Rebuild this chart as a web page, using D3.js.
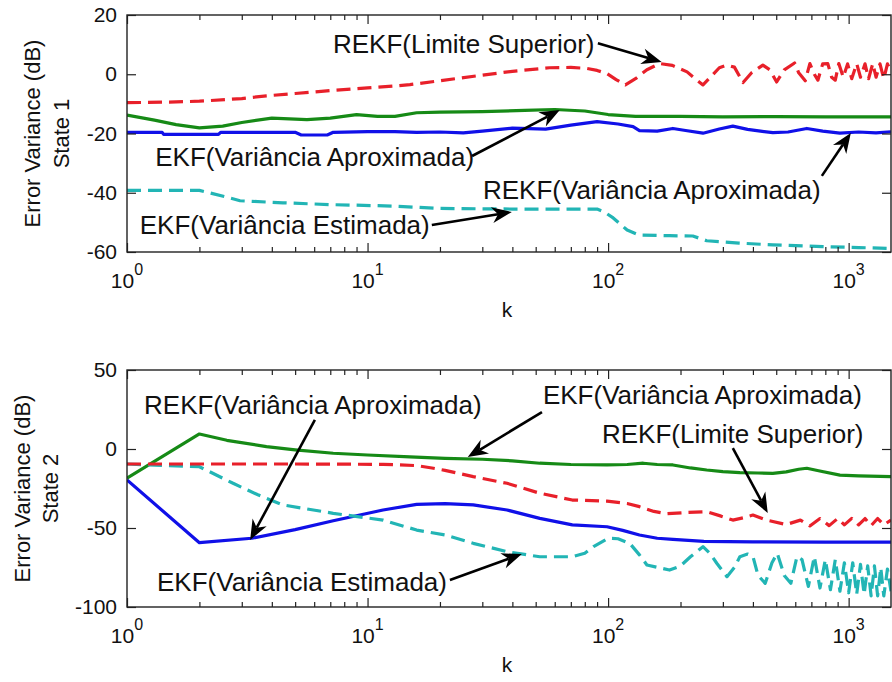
<!DOCTYPE html>
<html>
<head>
<meta charset="utf-8">
<script src="https://cdn.jsdelivr.net/npm/d3@7"></script>
<style>
body { margin: 0; background: #fff; }
svg { display: block; font-family: "Liberation Sans", Arial, sans-serif; }
</style>
</head>
<body>
<div id="chart"></div>
<script>
// values, as [k, dB]
const xDomain = [1, 1500];
const xMajorTicks = [1, 10, 100, 1000];
const xTickExponents = ["0", "1", "2", "3"];

const state1Ticks = [-60, -40, -20, 0, 20];
const state2Ticks = [-100, -50, 0, 50];

const state1RekfApprox = [[1,-19.6],[1.4,-19.6],[1.42,-20.3],[2.4,-20.3],[2.45,-19.6],[5,-19.6],[5.3,-20.5],[6.8,-20.5],[7.2,-19.6],[10,-19.4],[13,-19.4],[16,-19.6],[20,-19.5],[25,-19.8],[30,-19.2],[40,-18.2],[55,-18.5],[70,-17.2],[90,-16.0],[110,-16.8],[127,-17.7],[135,-19],[160,-19.2],[186,-18.3],[210,-19],[248,-19.9],[290,-18.5],[330,-17.5],[380,-18.6],[430,-19.2],[484,-19.7],[560,-19.5],[670,-18.3],[780,-19.2],[920,-19.9],[1100,-19.5],[1300,-19.8],[1500,-19.4]];
const state1EkfApprox = [[1,-13.8],[1.3,-15.5],[1.6,-17],[2,-18.1],[2.5,-17.5],[3,-16.3],[4,-14.8],[5.6,-15.3],[7,-14.8],[9,-13.6],[11,-14.2],[13,-14.2],[16,-13.0],[20,-12.8],[30,-12.6],[45,-12.2],[60,-11.9],[80,-12.4],[100,-13.6],[130,-14.2],[200,-14.2],[300,-14.4],[500,-14.3],[800,-14.4],[1500,-14.4]];
const state1EkfEst = [[1,-39.2],[2,-39.2],[2.2,-40],[2.6,-41.5],[2.95,-42.7],[4.45,-43.4],[7,-44],[12.8,-44.5],[20,-45.3],[40,-45.5],[90,-45.5],[96,-46.4],[105,-48.5],[120,-52.6],[135,-54.3],[180,-54.5],[225,-54.6],[257,-56.2],[350,-57],[484,-57.6],[780,-58.2],[1100,-58.5],[1500,-58.8]];
const state1RekfUpper = [[1,-9.6],[1.5,-9.4],[2,-9.1],[3,-8.2],[3.8,-7.3],[5,-6.5],[7,-5.5],[10,-4.6],[12.8,-4.0],[15,-3.5],[20,-2.2],[30,-0.3],[40,1.0],[57,2.2],[70,2.3],[81,2.0],[90,1.3],[99,0.2],[108,-1.8],[118,-3.6],[130,-1.5],[145,1.5],[164,3.6],[185,3.0],[213,0.8],[230,-1.5],[248,-3.6],[270,-0.5],[290,2.2],[312,3.1],[335,2.4],[364,-2.8],[395,0.5],[440,3.1],[470,1.5],[502,-2.6],[540,1.5],[596,3.8],[620,0.5],[660,-2.2],[690,3.6],[720,0],[745,-2],[780,3.5],[819,3.6],[850,-1],[880,-2],[910,3.6],[950,-1],[990,3.5],[1030,-1.5],[1080,3.6],[1120,-1],[1170,3.5],[1210,-1.5],[1260,3.6],[1300,-1],[1350,3.5],[1400,-1.5],[1450,3.5],[1500,1]];

const state2RekfApprox = [[1,-19.6],[2,-59.3],[3.3,-56.5],[5,-51],[7.2,-45.4],[11.6,-38.6],[16,-35],[21,-34.6],[27.5,-35.4],[38,-38.6],[52,-43.9],[71,-48],[99,-49.2],[115,-51.5],[135,-54.4],[160,-56.5],[186,-57.2],[250,-58.5],[400,-58.8],[800,-59],[1500,-59]];
const state2EkfApprox = [[1,-18.5],[2,9.5],[2.6,5.5],[3.8,1.5],[5,-0.5],[7.2,-2.7],[10,-3.8],[15,-5],[21,-5.9],[30,-6.5],[40,-7.5],[52,-9],[70,-9.8],[99,-10.1],[120,-9.8],[140,-9],[160,-9.8],[186,-10.1],[220,-12],[257,-13.3],[300,-14.3],[353,-15],[420,-15.2],[484,-15.4],[550,-14.5],[620,-12.8],[670,-12.2],[750,-13.8],[920,-16.5],[1100,-17],[1500,-17.5]];
const state2EkfEst = [[1,-9.5],[2,-11.2],[2.76,-21.7],[3.5,-29],[4.45,-35.4],[7.2,-40.7],[11.6,-45],[16,-51.3],[21,-54.4],[27.5,-59.7],[38,-65],[52,-68.2],[71,-68.2],[80,-66],[87,-61.8],[100,-56.5],[110,-56.8],[123,-59.7],[135,-67],[145,-73.4],[180,-76.6],[200,-74],[220,-68.2],[248,-61.8],[265,-66],[283,-72.3],[312,-80.8],[335,-75],[353,-68.2],[380,-66.5],[400,-68],[420,-80],[450,-85],[480,-72],[505,-66],[540,-80],[575,-85],[610,-68],[640,-70],[680,-87],[720,-68],[760,-88],[800,-70],[840,-89],[880,-70],[920,-90],[960,-72],[1000,-91],[1040,-72],[1080,-92],[1120,-73],[1160,-92],[1200,-74],[1240,-93],[1280,-74],[1320,-93],[1360,-75],[1400,-93],[1450,-76],[1500,-90]];
const state2RekfUpper = [[1,-9.5],[2,-9.5],[5,-9.5],[11.6,-9.7],[16,-10.5],[18.8,-12.2],[21,-13.5],[27.5,-17.5],[38,-21.7],[52,-28],[71,-32.3],[99,-33],[120,-34.5],[135,-36.5],[155,-39.5],[175,-41],[210,-40.2],[257,-39.7],[295,-42.5],[330,-45],[365,-43.5],[400,-41.8],[455,-45],[550,-47.8],[630,-45],[690,-48.7],[760,-44],[830,-48.5],[900,-44],[960,-48],[1030,-43.9],[1100,-48],[1170,-44],[1240,-48.5],[1320,-44],[1400,-48],[1500,-45]];

// annotations: text anchor [k, dB], arrow from -> to
const state1Notes = [
  { text: "REKF(Limite Superior)", at: [7.18, 7.2], from: [90.7, 10.5], to: [167, 4.1] },
  { text: "EKF(Variância Aproximada)", at: [1.31, -31.0], from: [27.2, -27.6], to: [63, -12.1] },
  { text: "REKF(Variância Aproximada)", at: [30.2, -42.1], from: [774, -34.3], to: [1021, -19.8] },
  { text: "EKF(Variância Estimada)", at: [1.13, -53.9], from: [18.5, -50.9], to: [39.8, -46.5] }
];
const state2Notes = [
  { text: "REKF(Variância Aproximada)", at: [1.177, 22.2], from: [6.04, 18.4], to: [3.25, -57.6] },
  { text: "EKF(Variância Aproximada)", at: [53.6, 28.5], from: [53.1, 23.4], to: [26.1, -5.1] },
  { text: "REKF(Limite Superior)", at: [94.3, 3.8], from: [330, 0.6], to: [461, -40.5] },
  { text: "EKF(Variância Estimada)", at: [1.333, -89.9], from: [22, -82.9], to: [43.8, -66.5] }
];

const colors = { blue: "#1010e8", green: "#168a16", red: "#e8202a", cyan: "#22b5b5" };

const width = 892, height = 682;
const margin = { left: 127, right: 1 };

const panels = [
  { top: 15, bottom: 252, yDomain: [-60, 20], yTicks: state1Ticks, state: "State 1",
    series: [
      { data: state1RekfApprox, color: colors.blue, dash: null },
      { data: state1EkfApprox, color: colors.green, dash: null },
      { data: state1EkfEst, color: colors.cyan, dash: "14,7" },
      { data: state1RekfUpper, color: colors.red, dash: "14,7" }
    ], notes: state1Notes, labelX: [40, 69] },
  { top: 370, bottom: 607, yDomain: [-100, 50], yTicks: state2Ticks, state: "State 2",
    series: [
      { data: state2RekfApprox, color: colors.blue, dash: null },
      { data: state2EkfApprox, color: colors.green, dash: null },
      { data: state2EkfEst, color: colors.cyan, dash: "14,7" },
      { data: state2RekfUpper, color: colors.red, dash: "14,7" }
    ], notes: state2Notes, labelX: [30, 58] }
];

const svg = d3.select("#chart").append("svg")
  .attr("width", width).attr("height", height);

function drawPanel(p, i) {
  const x = d3.scaleLog().domain(xDomain).range([margin.left, width - margin.right]);
  const y = d3.scaleLinear().domain(p.yDomain).range([p.bottom, p.top]);
  const g = svg.append("g");

  g.append("clipPath").attr("id", "clip" + i)
    .append("rect")
    .attr("x", x.range()[0]).attr("y", p.top)
    .attr("width", x.range()[1] - x.range()[0]).attr("height", p.bottom - p.top);

  const line = d3.line().x(d => x(d[0])).y(d => y(d[1]));

  p.series.forEach(s => {
    g.append("path")
      .datum(s.data)
      .attr("clip-path", `url(#clip${i})`)
      .attr("fill", "none")
      .attr("stroke", s.color)
      .attr("stroke-width", 3.2)
      .attr("stroke-linejoin", "round")
      .attr("stroke-dasharray", s.dash)
      .attr("d", line);
  });

  // ticks point inward on all four sides
  const minor = x.ticks().filter(t => !xMajorTicks.includes(t));
  const styleAxis = a => {
    a.select(".domain").remove();
    a.selectAll("line").attr("stroke", "#222").attr("stroke-width", 1.2);
  };
  g.append("g").attr("transform", `translate(0,${p.bottom})`)
    .call(d3.axisBottom(x).tickValues(xMajorTicks).tickSize(-9).tickFormat(""))
    .call(styleAxis);
  g.append("g").attr("transform", `translate(0,${p.bottom})`)
    .call(d3.axisBottom(x).tickValues(minor).tickSize(-5).tickFormat(""))
    .call(styleAxis);
  g.append("g").attr("transform", `translate(0,${p.top})`)
    .call(d3.axisTop(x).tickValues(xMajorTicks).tickSize(-9).tickFormat(""))
    .call(styleAxis);
  g.append("g").attr("transform", `translate(0,${p.top})`)
    .call(d3.axisTop(x).tickValues(minor).tickSize(-5).tickFormat(""))
    .call(styleAxis);
  g.append("g").attr("transform", `translate(${x.range()[0]},0)`)
    .call(d3.axisLeft(y).tickValues(p.yTicks).tickSize(-9).tickPadding(10).tickFormat(d => String(d)))
    .call(styleAxis)
    .call(a => a.selectAll("text").attr("font-size", 21).attr("fill", "#111")
      .attr("font-family", "Liberation Sans, Arial, sans-serif"));
  g.append("g").attr("transform", `translate(${x.range()[1]},0)`)
    .call(d3.axisRight(y).tickValues(p.yTicks).tickSize(-9).tickFormat(""))
    .call(styleAxis);

  g.append("rect")
    .attr("x", x.range()[0]).attr("y", p.top)
    .attr("width", x.range()[1] - x.range()[0]).attr("height", p.bottom - p.top)
    .attr("fill", "none").attr("stroke", "#222").attr("stroke-width", 1.4);

  // x tick labels 10^n
  xMajorTicks.forEach((t, j) => {
    const tx = g.append("text")
      .attr("x", x(t)).attr("y", p.bottom + 36)
      .attr("text-anchor", "middle").attr("fill", "#111").attr("font-size", 21);
    tx.append("tspan").text("10");
    tx.append("tspan").attr("dy", -13).attr("font-size", 16).text(xTickExponents[j]);
  });

  g.append("text")
    .attr("x", 507).attr("y", p.bottom + 65)
    .attr("text-anchor", "middle").attr("font-size", 21).attr("fill", "#111")
    .text("k");

  const cy = (p.top + p.bottom) / 2;
  g.append("text")
    .attr("transform", `translate(${p.labelX[0]},${cy}) rotate(-90)`)
    .attr("text-anchor", "middle").attr("font-size", 22).attr("fill", "#111")
    .text("Error Variance (dB)");
  g.append("text")
    .attr("transform", `translate(${p.labelX[1]},${cy}) rotate(-90)`)
    .attr("text-anchor", "middle").attr("font-size", 22).attr("fill", "#111")
    .text(p.state);

  // annotations
  p.notes.forEach(n => {
    g.append("text")
      .attr("x", x(n.at[0])).attr("y", y(n.at[1]))
      .attr("font-size", 26).attr("fill", "#111")
      .text(n.text);

    const x0 = x(n.from[0]), y0 = y(n.from[1]);
    const x1 = x(n.to[0]), y1 = y(n.to[1]);
    const len = Math.hypot(x1 - x0, y1 - y0);
    const ux = (x1 - x0) / len, uy = (y1 - y0) / len;
    const nx = -uy, ny = ux;
    const L = 20, W = 8, notch = 6;
    g.append("line")
      .attr("x1", x0).attr("y1", y0)
      .attr("x2", x1 - (L - notch) * ux).attr("y2", y1 - (L - notch) * uy)
      .attr("stroke", "#000").attr("stroke-width", 2.6);
    const head = [
      [x1, y1],
      [x1 - L * ux + W * nx, y1 - L * uy + W * ny],
      [x1 - (L - notch) * ux, y1 - (L - notch) * uy],
      [x1 - L * ux - W * nx, y1 - L * uy - W * ny]
    ];
    g.append("path")
      .attr("d", "M" + head.map(h => h.join(",")).join("L") + "Z")
      .attr("fill", "#000");
  });
}

panels.forEach(drawPanel);
</script>
</body>
</html>
